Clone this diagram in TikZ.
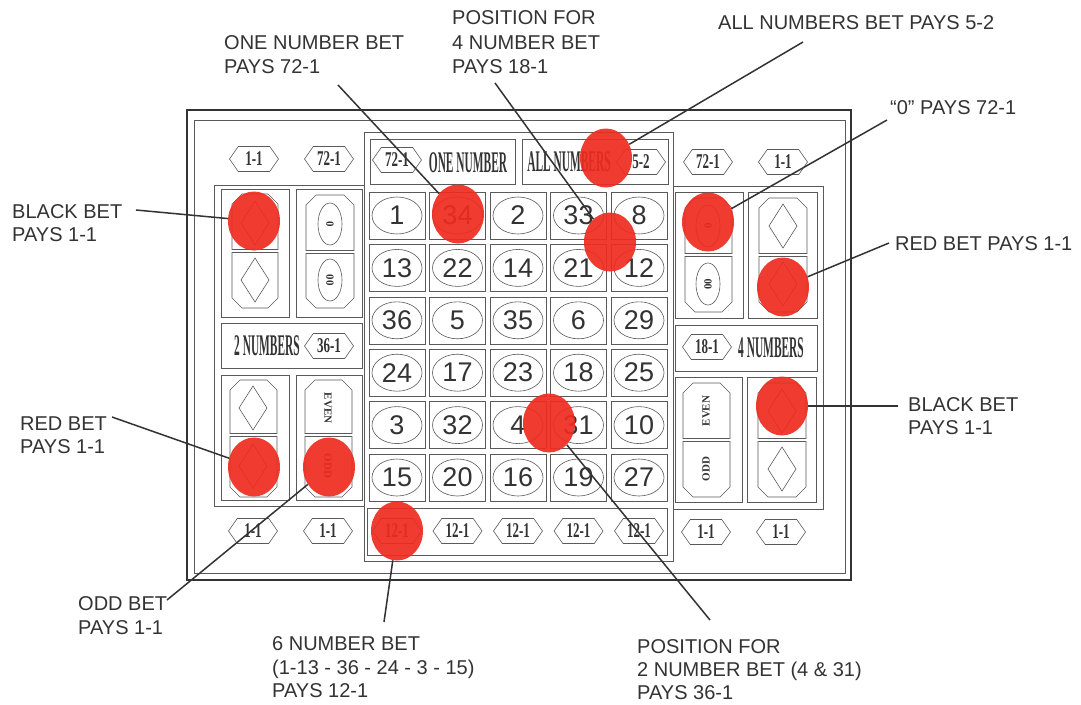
\documentclass[tikz,border=0pt]{standalone}
\usepackage{fontspec}
\setmainfont{Liberation Sans}
\newfontfamily\westfont{Liberation Serif}
\usepackage{graphicx}
\usetikzlibrary{shapes.geometric,shapes.symbols}
\definecolor{ink}{HTML}{333333}
\definecolor{board}{HTML}{5A5A5A}
\definecolor{chip}{HTML}{EE2B1F}
\newcommand\hx[1]{\scalebox{0.62}[1]{\westfont\bfseries\fontsize{21}{21}\selectfont #1}}
\newcommand\wst[1]{\scalebox{0.38}[1]{\westfont\bfseries\fontsize{30}{30}\selectfont #1}}
\newcommand\sm[1]{{\westfont\bfseries\fontsize{11}{11}\selectfont #1}}
% two stacked half-octagons: x1,y1,x2,y2,ymid
\newcommand\octpair[5]{%
  \draw[bline] (#1,{#5-1.5}) -- (#1,{#2+10}) -- ({#1+10},#2) -- ({#3-10},#2) -- (#3,{#2+10}) -- (#3,{#5-1.5}) -- cycle;
  \draw[bline] (#1,{#5+1.5}) -- (#1,{#4-10}) -- ({#1+10},#4) -- ({#3-10},#4) -- (#3,{#4-10}) -- (#3,{#5+1.5}) -- cycle;}
\newcommand\diamd[2]{\draw[bline] (#1,{#2-22}) -- ({#1+14},#2) -- (#1,{#2+22}) -- ({#1-14},#2) -- cycle;}
\begin{document}
\begin{tikzpicture}[x=1pt,y=-1pt,
  bline/.style={draw=board,line width=0.6pt},
  hexa/.style={draw=board,line width=0.6pt,shape=signal,signal to=west and east,signal pointer angle=110,minimum width=49pt,minimum height=25pt,inner sep=0pt,text=ink},
  cellbox/.style={draw=board,line width=0.6pt,rectangle,minimum width=56pt,minimum height=47pt,inner sep=0pt},
  cellnum/.style={draw=board,line width=0.6pt,ellipse,minimum width=50pt,minimum height=37pt,inner sep=0pt,text=ink,font=\fontsize{27}{27}\selectfont},
  zero/.style={draw=board,line width=0.6pt,ellipse,minimum width=24pt,minimum height=42pt,inner sep=0pt,text=ink},
  chipdot/.style={ellipse,fill=chip,fill opacity=0.92,minimum width=52pt,minimum height=59pt,inner sep=0pt},
  lbl/.style={anchor=base west,inner sep=0pt,text=ink,font=\fontsize{20}{24}\selectfont},
  leader/.style={draw=ink,line width=1.5pt}]
\useasboundingbox (0,0) rectangle (1081,704);
\fill[white] (0,0) rectangle (1081,704);
% board frames
\draw[draw=ink,line width=1.3pt] (187,110) rectangle (851,580);
\draw[bline] (194,120) rectangle (845,573);
\draw[bline] (364,132) rectangle (673,561);
\draw[bline] (370,139) rectangle (515,184);
\draw[bline] (522,139) rectangle (668,184);
\draw[bline] (214,185) rectangle (364,506);
\draw[bline] (673,186) rectangle (823,509);
% left panel boxes
\draw[bline] (221,189) rectangle (289,317);
\draw[bline] (296,189) rectangle (362,317);
\draw[bline] (221,323) rectangle (362,368);
\draw[bline] (221,375) rectangle (289,500);
\draw[bline] (296,375) rectangle (362,500);
% right panel boxes
\draw[bline] (675,192) rectangle (743,318);
\draw[bline] (748,192) rectangle (817,318);
\draw[bline] (675,325) rectangle (817,371);
\draw[bline] (675,377) rectangle (742,502);
\draw[bline] (747,377) rectangle (816,502);
% bottom row box
\draw[bline] (367,508) rectangle (667,555);
% half octagons and contents
\octpair{232}{194}{278}{308}{251}
\diamd{255}{223}\diamd{255}{280}
\octpair{306}{195}{354}{308}{252}
\node[zero] (zl1) at (330,224) {\rotatebox{-90}{\sm{0}}};
\node[zero] (zl2) at (330,280) {\rotatebox{-90}{\sm{00}}};
\octpair{230}{380}{277}{497}{435}
\diamd{253}{408}\diamd{253}{466}
\octpair{305}{380}{352}{497}{435}
\node[text=ink] (evl) at (328,408) {\rotatebox{-90}{\sm{EVEN}}};
\node[text=ink] (odl) at (328,466) {\rotatebox{-90}{\sm{ODD}}};
\octpair{685}{198}{732}{312}{255}
\node[zero] (zr1) at (708,226) {\rotatebox{90}{\sm{0}}};
\node[zero] (zr2) at (708,284) {\rotatebox{90}{\sm{00}}};
\octpair{759}{198}{807}{312}{255}
\diamd{783}{226}\diamd{783}{284}
\octpair{683}{383}{730}{497}{440}
\node[text=ink] (evr) at (706,411) {\rotatebox{90}{\sm{EVEN}}};
\node[text=ink] (odr) at (706,469) {\rotatebox{90}{\sm{ODD}}};
\octpair{758}{383}{806}{497}{440}
\diamd{782}{411}\diamd{782}{469}
% board titles
\node[text=ink,inner sep=0pt] (one) at (468,163) {\wst{ONE NUMBER}};
\node[text=ink,inner sep=0pt] (all) at (569,162) {\wst{ALL NUMBERS}};
\node[text=ink,inner sep=0pt] (two) at (267,346) {\wst{2 NUMBERS}};
\node[text=ink,inner sep=0pt] (four) at (771,348) {\wst{4 NUMBERS}};
% hexagon payouts
\node[hexa] (ht1) at (254,159) {\hx{1-1}};
\node[hexa] (ht2) at (329,159) {\hx{72-1}};
\node[hexa] (ht3) at (397,160) {\hx{72-1}};
\node[hexa] (ht4) at (641,162) {\hx{5-2}};
\node[hexa] (ht5) at (708,162) {\hx{72-1}};
\node[hexa] (ht6) at (783,162) {\hx{1-1}};
\node[hexa] (hm1) at (329,346) {\hx{36-1}};
\node[hexa] (hm2) at (707,347) {\hx{18-1}};
\node[hexa] (hb1) at (253,531) {\hx{1-1}};
\node[hexa] (hb2) at (328,531) {\hx{1-1}};
\foreach \i in {0,...,4} {\node[hexa] (hd\i) at ({397+60.5*\i},531) {\hx{12-1}};}
\node[hexa] (hb3) at (706,532) {\hx{1-1}};
\node[hexa] (hb4) at (781,532) {\hx{1-1}};
% number grid
\foreach \row [count=\j from 0] in {{1,34,2,33,8},{13,22,14,21,12},{36,5,35,6,29},{24,17,23,18,25},{3,32,4,31,10},{15,20,16,19,27}} {
  \foreach \n [count=\i from 0] in \row {
    \node[cellbox] (c\n) at ({397+60.5*\i},{215.5+52.4*\j}) {};
    \node[cellnum] (e\n) at (c\n) {\n};
  }
}
% chips
\node[chipdot] (dblL) at (254,221) {};
\node[chipdot] (d34) at (458,214) {};
\node[chipdot] (dall) at (606,158) {};
\node[chipdot] (d4n) at (610,242) {};
\node[chipdot] (d0) at (708,222) {};
\node[chipdot] (dredR) at (783,287) {};
\node[chipdot] (dblR) at (782,406) {};
\node[chipdot] (d2n) at (549,423) {};
\node[chipdot] (dredL) at (254,467) {};
\node[chipdot] (dodd) at (329,467) {};
\node[chipdot] (d12) at (397,531) {};
% labels
\node[lbl] (t1a) at (224,49) {ONE NUMBER BET};
\node[lbl] (t1b) at (224,73) {PAYS 72-1};
\node[lbl] (t2a) at (452,24) {POSITION FOR};
\node[lbl] (t2b) at (452,49) {4 NUMBER BET};
\node[lbl] (t2c) at (452,73) {PAYS 18-1};
\node[lbl] (t3) at (718,29) {ALL NUMBERS BET PAYS 5-2};
\node[lbl] (t4) at (890,114) {“0” PAYS 72-1};
\node[lbl] (t5a) at (12,218) {BLACK BET};
\node[lbl] (t5b) at (12,241) {PAYS 1-1};
\node[lbl] (t6) at (895,250) {RED BET PAYS 1-1};
\node[lbl] (t7a) at (908,411) {BLACK BET};
\node[lbl] (t7b) at (908,434) {PAYS 1-1};
\node[lbl] (t8a) at (20,430) {RED BET};
\node[lbl] (t8b) at (20,453) {PAYS 1-1};
\node[lbl] (t9a) at (78,610) {ODD BET};
\node[lbl] (t9b) at (78,634) {PAYS 1-1};
\node[lbl] (t10a) at (272,650) {6 NUMBER BET};
\node[lbl] (t10b) at (272,674) {(1-13 - 36 - 24 - 3 - 15)};
\node[lbl] (t10c) at (272,697) {PAYS 12-1};
\node[lbl] (t11a) at (637,653) {POSITION FOR};
\node[lbl] (t11b) at (637,676) {2 NUMBER BET (4 \& 31)};
\node[lbl] (t11c) at (637,699) {PAYS 36-1};
% leader starts
\coordinate (s1) at (338,85);
\coordinate (s2) at (495,83);
\coordinate (s3) at (803,42);
\coordinate (s4) at (887,120);
\coordinate (s5) at (136,210);
\coordinate (s6) at (889,243);
\coordinate (s7) at (898,406);
\coordinate (s8) at (112,417);
\coordinate (s9) at (167,600);
\coordinate (s10) at (384,622);
\coordinate (s11) at (710,620);
\draw[leader] (s1) -- (d34);
\draw[leader] (s2) -- (d4n);
\draw[leader] (s3) -- (dall);
\draw[leader] (s4) -- (d0);
\draw[leader] (s5) -- (dblL);
\draw[leader] (s6) -- (dredR);
\draw[leader] (s7) -- (dblR);
\draw[leader] (s8) -- (dredL);
\draw[leader] (s9) -- (dodd);
\draw[leader] (s10) -- (d12);
\draw[leader] (s11) -- (d2n);
\end{tikzpicture}
\end{document}
